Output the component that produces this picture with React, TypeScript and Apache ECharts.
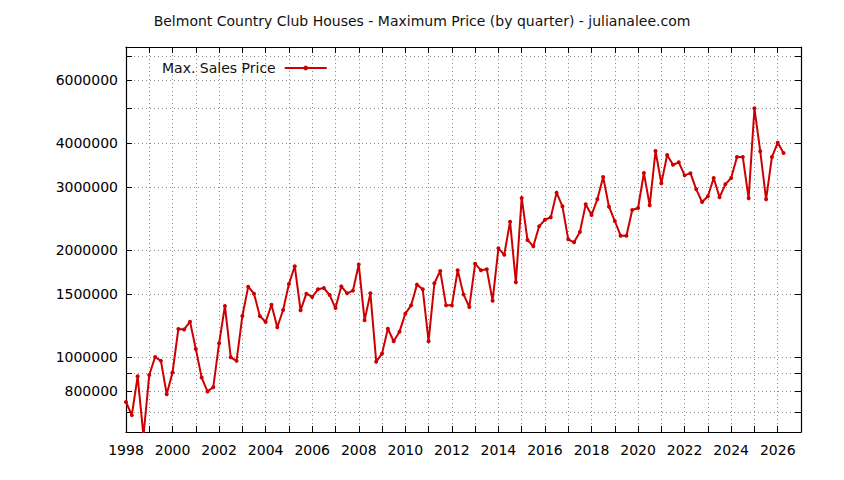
import React, { useEffect, useRef } from "react";
import * as echarts from "echarts";

const title = "Belmont Country Club Houses - Maximum Price (by quarter) - julianalee.com";
const seriesName = "Max. Sales Price";
const startYear = 1998;
const maxPrice = [
  747000, 686000, 882000, 600000, 890000, 1000000, 975000, 785000,
  905000, 1199000, 1195000, 1257000, 1053000, 875000, 800000, 822000,
  1093000, 1392000, 998000, 975000, 1304000, 1577000, 1507000, 1304000,
  1254000, 1403000, 1212000, 1356000, 1604000, 1800000, 1353000, 1507000,
  1475000, 1550000, 1563000, 1494000, 1373000, 1580000, 1510000, 1537000,
  1820000, 1268000, 1510000, 970000, 1022000, 1201000, 1107000, 1178000,
  1324000, 1397000, 1598000, 1550000, 1107000, 1612000, 1746000, 1397000,
  1397000, 1753000, 1500000, 1382000, 1830000, 1753000, 1765000, 1440000,
  2022000, 1938000, 2402000, 1622000, 2802000, 2133000, 2048000, 2331000,
  2433000, 2472000, 2900000, 2654000, 2143000, 2102000, 2247000, 2688000,
  2508000, 2778000, 3208000, 2647000, 2413000, 2194000, 2194000, 2592000,
  2625000, 3293000, 2671000, 3798000, 3080000, 3700000, 3475000, 3529000,
  3243000, 3290000, 2963000, 2729000, 2832000, 3188000, 2813000, 3060000,
  3188000, 3652000, 3652000, 2796000, 5008000, 3790000, 2778000, 3652000,
  4007000, 3748000,
];
const yearLabels = [1998, 2000, 2002, 2004, 2006, 2008, 2010, 2012, 2014, 2016, 2018, 2020, 2022, 2024, 2026];
const yearTicks = [
  1998, 1999, 2000, 2001, 2002, 2003, 2004, 2005, 2006, 2007, 2008, 2009, 2010, 2011, 2012,
  2013, 2014, 2015, 2016, 2017, 2018, 2019, 2020, 2021, 2022, 2023, 2024, 2025, 2026,
];
const priceLabels = [800000, 1000000, 1500000, 2000000, 3000000, 4000000, 6000000];
const priceTicks = [700000, 800000, 900000, 1000000, 1500000, 2000000, 3000000, 4000000, 5000000, 6000000, 7000000];

const X_MIN = 1998;
const X_MAX = 2027;
const Y_MIN = 615000;
const Y_MAX = 7450000;

export default function App() {
  const ref = useRef<HTMLDivElement>(null);
  useEffect(() => {
    if (!ref.current) return;
    const chart = echarts.init(ref.current, undefined, { renderer: "svg" });
    const font = "'DejaVu Sans', sans-serif";
    const gridLine = { show: true, lineStyle: { color: "#8c8c8c", width: 1, type: [1, 3] as any } };
    const axisLine = { show: true, onZero: false, lineStyle: { color: "#000", width: 1.2 } };
    const xCommon = (pos: "bottom" | "top", labels: boolean) => ({
      type: "value",
      position: pos,
      min: X_MIN,
      max: X_MAX,
      axisLine,
      axisTick: { show: true, inside: true, length: 6, customValues: yearTicks, lineStyle: { color: "#000", width: 1 } },
      axisLabel: {
        show: labels,
        customValues: yearLabels,
        color: "#000",
        fontFamily: font,
        fontSize: 14,
        margin: 11,
        formatter: (v: number) => String(v),
      },
      splitLine: labels ? gridLine : { show: false },
    });
    const yCommon = (pos: "left" | "right", labels: boolean) => ({
      type: "log",
      logBase: 10,
      position: pos,
      min: Y_MIN,
      max: Y_MAX,
      axisLine,
      axisTick: { show: true, inside: true, length: 6, customValues: priceTicks, lineStyle: { color: "#000", width: 1 } },
      axisLabel: {
        show: labels,
        customValues: priceLabels,
        color: "#000",
        fontFamily: font,
        fontSize: 14,
        margin: 8,
        formatter: (v: number) => String(Math.round(v)),
      },
      splitLine: labels ? gridLine : { show: false },
    });
    chart.setOption({
      animation: false,
      backgroundColor: "#fff",
      title: {
        text: title,
        left: "center",
        top: 9,
        textStyle: { fontFamily: font, fontSize: 14, fontWeight: "normal", color: "#111" },
      },
      legend: {
        left: 157,
        top: 56,
        align: "right",
        itemWidth: 42,
        itemHeight: 6,
        itemGap: 0,
        textStyle: { fontFamily: font, fontSize: 14, color: "#111", padding: [0, 4, 0, 0] },
        data: [{ name: seriesName }],
      },
      grid: { left: 126, right: 43, top: 47, bottom: 48, containLabel: false },
      xAxis: [xCommon("bottom", true), xCommon("top", false)],
      yAxis: [yCommon("left", true), yCommon("right", false)],
      series: [
        {
          name: seriesName,
          type: "line",
          xAxisIndex: 0,
          yAxisIndex: 0,
          data: maxPrice.map((v, i) => [startYear + i / 4, v]),
          symbol: "circle",
          symbolSize: 4,
          showAllSymbol: true,
          clip: true,
          itemStyle: { color: "#cc0000" },
          lineStyle: { color: "#cc0000", width: 2 },
        },
      ],
    });
    return () => chart.dispose();
  }, []);
  return <div ref={ref} style={{ position: "fixed", left: 0, top: 0, width: 844, height: 480, background: "#fff" }} />;
}
